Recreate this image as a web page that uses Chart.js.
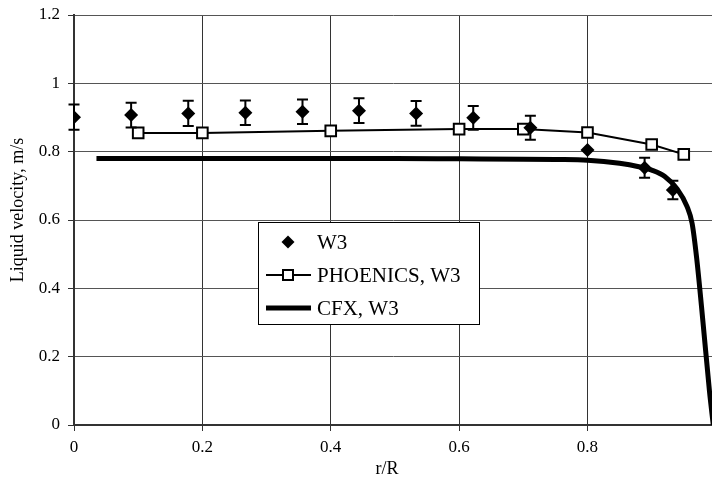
<!DOCTYPE html>
<html>
<head>
<meta charset="utf-8">
<script src="https://cdn.jsdelivr.net/npm/chart.js@4.4.1/dist/chart.umd.min.js"></script>
<style>
  body { margin: 0; background: #fff; }
  #chart { display: block; }
</style>
</head>
<body>
<canvas id="chart" width="712" height="496"></canvas>
<script>
// measured W3 points (diamonds) with error bars
const w3R = [0, 0.089, 0.178, 0.267, 0.356, 0.444, 0.533, 0.622, 0.711, 0.8, 0.889, 0.933];
const w3Vel = [0.901, 0.907, 0.912, 0.914, 0.917, 0.920, 0.912, 0.899, 0.870, 0.805, 0.753, 0.688];
const w3Err = [0.037, 0.036, 0.037, 0.036, 0.036, 0.036, 0.036, 0.035, 0.035, 0, 0.029, 0.027];

// PHOENICS prediction
const phoenicsR = [0.1, 0.2, 0.4, 0.6, 0.7, 0.8, 0.9, 0.95];
const phoenicsVel = [0.855, 0.855, 0.861, 0.866, 0.866, 0.856, 0.821, 0.792];

// CFX prediction
const cfxR = [0.035, 0.1, 0.2, 0.3, 0.4, 0.5, 0.6, 0.7, 0.75, 0.8, 0.85, 0.88, 0.9, 0.92, 0.94, 0.955, 0.963, 0.97, 0.98, 0.99, 0.996];
const cfxVel = [0.780, 0.780, 0.780, 0.780, 0.780, 0.780, 0.779, 0.778, 0.777, 0.775, 0.766, 0.756, 0.746, 0.728, 0.690, 0.640, 0.590, 0.490, 0.300, 0.100, 0.0];

const xTicks = [0, 0.2, 0.4, 0.6, 0.8];
const yTicks = [0, 0.2, 0.4, 0.6, 0.8, 1, 1.2];

const toXY = (xs, ys) => xs.map((x, i) => ({ x: x, y: ys[i] }));
const FONT = "'Liberation Serif', 'Times New Roman', serif";
const fmt = (v) => String(Number(v.toFixed(2)));

// error bars for W3
const errorBars = {
    id: 'errorBars',
    afterDatasetsDraw(chart) {
        const ctx = chart.ctx;
        const xs = chart.scales.x, ys = chart.scales.y;
        ctx.save();
        ctx.strokeStyle = '#000';
        ctx.lineWidth = 2;
        w3R.forEach((r, i) => {
            if (!w3Err[i]) return;
            const px = xs.getPixelForValue(r);
            const top = ys.getPixelForValue(w3Vel[i] + w3Err[i]);
            const bot = ys.getPixelForValue(w3Vel[i] - w3Err[i]);
            ctx.beginPath();
            ctx.moveTo(px, top); ctx.lineTo(px, bot);
            ctx.moveTo(px - 5.5, top); ctx.lineTo(px + 5.5, top);
            ctx.moveTo(px - 5.5, bot); ctx.lineTo(px + 5.5, bot);
            ctx.stroke();
        });
        ctx.restore();
    }
};

// boxed legend inside the plot + axis titles
const boxLegend = {
    id: 'boxLegend',
    afterDraw(chart) {
        const ctx = chart.ctx;
        const ds = chart.data.datasets;
        ctx.save();
        // axis titles
        ctx.fillStyle = '#000';
        ctx.font = '18px ' + FONT;
        ctx.textAlign = 'center';
        ctx.textBaseline = 'middle';
        ctx.fillText('r/R', 387, 469);
        ctx.save();
        ctx.translate(18, 210);
        ctx.rotate(-Math.PI / 2);
        ctx.fillText('Liquid velocity, m/s', 0, 0);
        ctx.restore();

        // legend box
        const bx = 258.5, by = 222.5, bw = 221, bh = 102;
        ctx.fillStyle = '#fff';
        ctx.fillRect(bx, by, bw, bh);
        ctx.strokeStyle = '#000';
        ctx.lineWidth = 1;
        ctx.strokeRect(bx, by, bw, bh);

        const rows = [242, 275, 308];
        const sx = 266, ex = 311, mx = 288;
        // W3
        ctx.fillStyle = '#000';
        ctx.beginPath();
        ctx.moveTo(mx, rows[0] - 6.5); ctx.lineTo(mx + 6.5, rows[0]);
        ctx.lineTo(mx, rows[0] + 6.5); ctx.lineTo(mx - 6.5, rows[0]);
        ctx.closePath(); ctx.fill();
        // PHOENICS
        ctx.lineWidth = 2;
        ctx.beginPath(); ctx.moveTo(sx, rows[1]); ctx.lineTo(ex, rows[1]); ctx.stroke();
        ctx.fillStyle = '#fff';
        ctx.fillRect(mx - 5, rows[1] - 5, 10, 10);
        ctx.strokeRect(mx - 5, rows[1] - 5, 10, 10);
        // CFX
        ctx.lineWidth = 5;
        ctx.beginPath(); ctx.moveTo(sx, rows[2]); ctx.lineTo(ex, rows[2]); ctx.stroke();

        ctx.fillStyle = '#000';
        ctx.font = '21px ' + FONT;
        ctx.textAlign = 'left';
        ds.forEach((d, i) => ctx.fillText(d.label, 317, rows[i] + 1));
        ctx.restore();
    }
};

new Chart(document.getElementById('chart'), {
    type: 'scatter',
    data: {
        datasets: [
            {
                label: 'W3',
                data: toXY(w3R, w3Vel),
                showLine: false,
                pointStyle: 'rectRot',
                pointRadius: 7,
                backgroundColor: '#000',
                borderColor: '#000',
                borderWidth: 0
            },
            {
                label: 'PHOENICS, W3',
                data: toXY(phoenicsR, phoenicsVel),
                showLine: true,
                borderColor: '#000',
                borderWidth: 2,
                pointStyle: 'rect',
                pointRadius: 7.5,
                pointBackgroundColor: '#fff',
                pointBorderColor: '#000',
                pointBorderWidth: 2
            },
            {
                label: 'CFX, W3',
                data: toXY(cfxR, cfxVel),
                showLine: true,
                borderColor: '#000',
                borderWidth: 5,
                pointRadius: 0,
                cubicInterpolationMode: 'monotone'
            }
        ]
    },
    options: {
        responsive: false,
        animation: false,
        layout: { autoPadding: false, padding: { top: 15, right: 0, left: 0, bottom: 0 } },
        plugins: { legend: { display: false }, tooltip: { enabled: false } },
        scales: {
            x: {
                type: 'linear',
                min: 0,
                max: 0.994,
                afterBuildTicks: (axis) => { axis.ticks = xTicks.map(v => ({ value: v })); },
                afterFit: (axis) => { axis.height = 71; axis.paddingLeft = 0; axis.paddingRight = 0; },
                grid: { color: '#333', lineWidth: 1, tickLength: 6, tickColor: '#333' },
                border: { color: '#333', width: 2 },
                ticks: { color: '#000', font: { family: FONT, size: 17 }, padding: 6, maxRotation: 0, callback: fmt }
            },
            y: {
                min: 0,
                max: 1.2,
                afterBuildTicks: (axis) => { axis.ticks = yTicks.map(v => ({ value: v })); },
                afterFit: (axis) => { axis.width = 74; axis.paddingTop = 0; axis.paddingBottom = 0; },
                grid: { color: '#555', lineWidth: 1, tickLength: 6, tickColor: '#333' },
                border: { color: '#333', width: 2 },
                ticks: { color: '#000', font: { family: FONT, size: 17 }, padding: 8, callback: fmt }
            }
        }
    },
    plugins: [errorBars, boxLegend]
});
</script>
</body>
</html>
